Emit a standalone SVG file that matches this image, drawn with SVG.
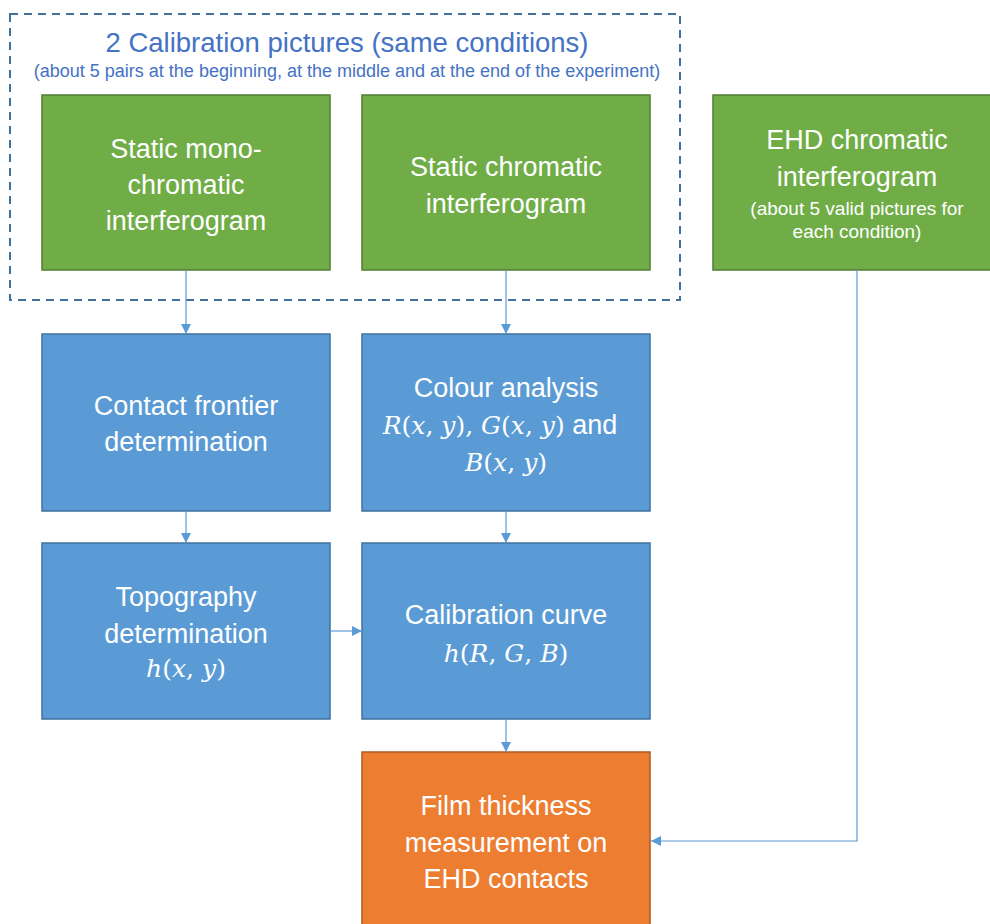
<svg xmlns="http://www.w3.org/2000/svg" width="990" height="924" viewBox="0 0 990 924">
<style>
.t{font-family:"Liberation Sans",Arial,sans-serif;fill:#fff;text-anchor:middle;font-size:27px}
.s{font-size:19px}
.q{font-family:"DejaVu Serif","Liberation Serif",serif;font-size:25px}
.m{font-style:italic}
.g{fill:#70AD47;stroke:#507E32;stroke-width:1.5}
.b{fill:#5B9BD5;stroke:#41719C;stroke-width:1.5}
.o{fill:#ED7D31;stroke:#AE5A21;stroke-width:1.5}
.c{fill:none;stroke:#5B9BD5;stroke-width:1.2;marker-end:url(#ah)}
.h{font-family:"Liberation Sans",Arial,sans-serif;fill:#4472C4;text-anchor:middle}
</style>
<defs>
<marker id="ah" viewBox="0 0 10 10" refX="10" refY="5" markerWidth="10" markerHeight="10" markerUnits="userSpaceOnUse" orient="auto">
<path d="M0,0 L10,5 L0,10 z" fill="#5B9BD5"/>
</marker>
</defs>
<rect width="990" height="924" fill="#fff"/>
<g id="calib-group">
<rect x="10" y="14" width="670" height="286" fill="none" stroke="#41719C" stroke-width="2" stroke-dasharray="8,6"/>
<text class="h" x="347" y="52" font-size="27.5">2 Calibration pictures (same conditions)</text>
<text class="h" x="347" y="77" font-size="18">(about 5 pairs at the beginning, at the middle and at the end of the experiment)</text>
</g>
<g id="static-mono">
<rect class="g" x="42" y="95" width="288" height="175"/>
<text class="t" x="186" y="158">Static mono-</text>
<text class="t" x="186" y="194">chromatic</text>
<text class="t" x="186" y="230">interferogram</text>
</g>
<g id="static-chrom">
<rect class="g" x="362" y="95" width="288" height="175"/>
<text class="t" x="506" y="176">Static chromatic</text>
<text class="t" x="506" y="213">interferogram</text>
</g>
<g id="ehd-chrom">
<rect class="g" x="713" y="95" width="290" height="175"/>
<text class="t" x="857" y="149">EHD chromatic</text>
<text class="t" x="857" y="186">interferogram</text>
<text class="t s" x="857" y="215">(about 5 valid pictures for</text>
<text class="t s" x="857" y="238">each condition)</text>
</g>
<g id="contact-frontier">
<rect class="b" x="42" y="334" width="288" height="177"/>
<text class="t" x="186" y="415">Contact frontier</text>
<text class="t" x="186" y="451">determination</text>
</g>
<g id="colour-analysis">
<rect class="b" x="362" y="334" width="288" height="177"/>
<text class="t" x="506" y="397">Colour analysis</text>
<text class="t" x="500" y="434"><tspan class="q"><tspan class="m">R</tspan>(<tspan class="m">x</tspan>, <tspan class="m">y</tspan>), <tspan class="m">G</tspan>(<tspan class="m">x</tspan>, <tspan class="m">y</tspan>)</tspan> and</text>
<text class="t q" x="506" y="471"><tspan class="m">B</tspan>(<tspan class="m">x</tspan>, <tspan class="m">y</tspan>)</text>
</g>
<g id="topography">
<rect class="b" x="42" y="543" width="288" height="176"/>
<text class="t" x="186" y="606">Topography</text>
<text class="t" x="186" y="643">determination</text>
<text class="t q" x="186" y="677"><tspan class="m">h</tspan>(<tspan class="m">x</tspan>, <tspan class="m">y</tspan>)</text>
</g>
<g id="calib-curve">
<rect class="b" x="362" y="543" width="288" height="176"/>
<text class="t" x="506" y="624">Calibration curve</text>
<text class="t q" x="506" y="662"><tspan class="m">h</tspan>(<tspan class="m">R</tspan>, <tspan class="m">G</tspan>, <tspan class="m">B</tspan>)</text>
</g>
<g id="film-thickness">
<rect class="o" x="362" y="752" width="288" height="190"/>
<text class="t" x="506" y="815">Film thickness</text>
<text class="t" x="506" y="852">measurement on</text>
<text class="t" x="506" y="888">EHD contacts</text>
</g>
<g id="connectors">
<path class="c" d="M186,270 V334"/>
<path class="c" d="M506,270 V334"/>
<path class="c" d="M186,511 V543"/>
<path class="c" d="M506,511 V543"/>
<path class="c" d="M330,631 H362"/>
<path class="c" d="M506,719 V752"/>
<path class="c" d="M857,270 V841 H651"/>
</g>
</svg>
